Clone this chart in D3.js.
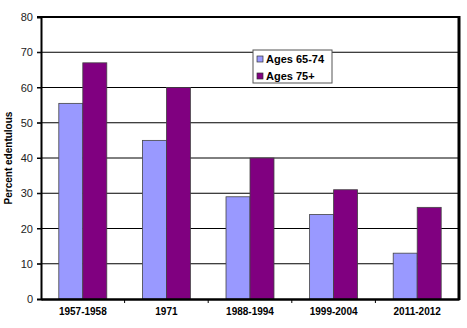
<!DOCTYPE html>
<html><head><meta charset="utf-8">
<script src="https://cdn.jsdelivr.net/npm/d3@7"></script>
<style>body{margin:0;background:#fff}svg{display:block}text{font-family:Arial,"Liberation Sans",sans-serif}</style>
</head><body>
<script>
const categories = ["1957-1958","1971","1988-1994","1999-2004","2011-2012"];
const seriesNames = ["Ages 65-74","Ages 75+"];
const ages6574 = [55.5,45,29,24,13];
const ages75 = [67,60,40,31,26];
const yTicks = [0,10,20,30,40,50,60,70,80];
const colors = ["#9999FF","#800080"];

const W=467,H=328;
const m={l:41,r:8,t:17,b:29};
const svg=d3.select("body").append("svg").attr("width",W).attr("height",H);
const x=d3.scaleBand().domain(categories).range([m.l,W-m.r]).paddingInner(0.426).paddingOuter(0.213);
const x1=d3.scaleBand().domain(seriesNames).range([0,x.bandwidth()]);
const y=d3.scaleLinear().domain([0,80]).range([H-m.b,m.t]);

// gridlines
svg.append("g").selectAll("line").data(yTicks.filter(d=>d>0)).join("line")
 .attr("x1",m.l-4).attr("x2",W-m.r).attr("y1",d=>y(d)).attr("y2",d=>y(d))
 .attr("stroke","#000").attr("stroke-width",d=>d===80?2:1);

// bars
const series=[ages6574,ages75];
svg.append("g").selectAll("g").data(categories).join("g")
 .attr("transform",d=>`translate(${x(d)},0)`)
 .selectAll("rect").data((d,i)=>seriesNames.map((s,j)=>({s,v:series[j][i],j}))).join("rect")
 .attr("x",d=>x1(d.s)).attr("width",x1.bandwidth()).attr("y",d=>y(d.v)).attr("height",d=>y(0)-y(d.v))
 .attr("fill",d=>colors[d.j]).attr("stroke","#444").attr("stroke-width",0.8);

// right border
svg.append("line").attr("x1",W-m.r).attr("x2",W-m.r).attr("y1",m.t-1).attr("y2",y(0)+1).attr("stroke","#000").attr("stroke-width",3);

// y axis
const ya=svg.append("g").attr("transform",`translate(${m.l},0)`)
 .call(d3.axisLeft(y).tickValues(yTicks).tickSize(4).tickPadding(4));
ya.select(".domain").attr("stroke","#000").attr("stroke-width",2);
ya.selectAll(".tick line").attr("stroke","#000");
ya.selectAll("text").attr("font-size",11).attr("fill","#222");

// x axis
const xa=svg.append("g").attr("transform",`translate(0,${y(0)})`)
 .call(d3.axisBottom(x).tickSize(0).tickPadding(9));
xa.select(".domain").attr("stroke","#000").attr("stroke-width",2.5);
xa.selectAll("text").attr("font-size",10).attr("font-weight","bold").attr("fill","#000");
// between-group tick marks
const step=x.step();
svg.append("g").selectAll("line").data(d3.range(1,categories.length)).join("line")
 .attr("x1",i=>m.l+i*step).attr("x2",i=>m.l+i*step).attr("y1",y(0)).attr("y2",y(0)+4)
 .attr("stroke","#000");

// y label
svg.append("text").attr("transform",`translate(12,${(m.t+H-m.b)/2}) rotate(-90)`)
 .attr("text-anchor","middle").attr("font-size",10).attr("font-weight","bold").text("Percent edentulous");

// legend
const lg=svg.append("g").attr("transform","translate(253,50)");
lg.append("rect").attr("width",79).attr("height",33).attr("fill","#fff").attr("stroke","#555").attr("stroke-width",1);
seriesNames.forEach((s,i)=>{
 lg.append("rect").attr("x",4).attr("y",6+i*17).attr("width",6).attr("height",6).attr("fill",colors[i]).attr("stroke","#333").attr("stroke-width",0.7);
 lg.append("text").attr("x",13).attr("y",13+i*17).attr("font-size",11).attr("font-weight","bold").text(s);
});
</script>
</body></html>
